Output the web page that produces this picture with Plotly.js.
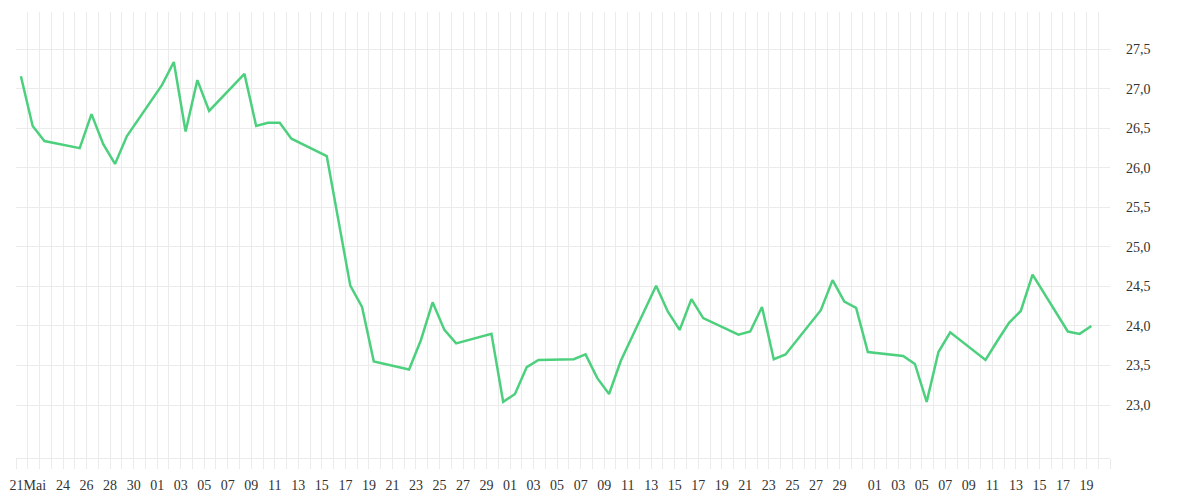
<!DOCTYPE html>
<html>
<head>
<meta charset="utf-8">
<script src="https://cdn.plot.ly/plotly-3.0.1.min.js"></script>
<style>
  html, body { margin: 0; padding: 0; background: #ffffff; }
  #chart { width: 1200px; height: 500px; }
</style>
</head>
<body>
<div id="chart"></div>
<script>
// Trading days (2020) and closing values
const dates = [
  '2020-05-20','2020-05-21','2020-05-22','2020-05-25','2020-05-26','2020-05-27','2020-05-28','2020-05-29',
  '2020-06-01','2020-06-02','2020-06-03','2020-06-04','2020-06-05',
  '2020-06-08','2020-06-09','2020-06-10','2020-06-11','2020-06-12',
  '2020-06-15','2020-06-16','2020-06-17','2020-06-18','2020-06-19',
  '2020-06-22','2020-06-23','2020-06-24','2020-06-25','2020-06-26',
  '2020-06-29','2020-06-30','2020-07-01','2020-07-02','2020-07-03',
  '2020-07-06','2020-07-07','2020-07-08','2020-07-09','2020-07-10',
  '2020-07-13','2020-07-14','2020-07-15','2020-07-16','2020-07-17',
  '2020-07-20','2020-07-21','2020-07-22','2020-07-23','2020-07-24',
  '2020-07-27','2020-07-28','2020-07-29','2020-07-30','2020-07-31',
  '2020-08-03','2020-08-04','2020-08-05','2020-08-06','2020-08-07',
  '2020-08-10','2020-08-11','2020-08-12','2020-08-13','2020-08-14',
  '2020-08-17','2020-08-18','2020-08-19'
];
const values = [
  27.16, 26.53, 26.34, 26.25, 26.68, 26.30, 26.05, 26.40,
  27.05, 27.34, 26.46, 27.11, 26.72,
  27.19, 26.53, 26.57, 26.57, 26.37,
  26.15, 25.35, 24.51, 24.24, 23.55,
  23.45, 23.82, 24.30, 23.95, 23.78,
  23.90, 23.04, 23.14, 23.48, 23.57,
  23.58, 23.64, 23.34, 23.14, 23.56,
  24.51, 24.18, 23.95, 24.34, 24.10,
  23.89, 23.93, 24.24, 23.58, 23.64,
  24.20, 24.58, 24.31, 24.23, 23.67,
  23.62, 23.52, 23.04, 23.67, 23.92,
  23.57, 23.81, 24.04, 24.19, 24.65,
  23.93, 23.90, 24.00
];

// X tick labels
const tickDates = [
  '2020-05-21','2020-05-24','2020-05-26','2020-05-28','2020-05-30',
  '2020-06-01','2020-06-03','2020-06-05','2020-06-07','2020-06-09','2020-06-11','2020-06-13','2020-06-15',
  '2020-06-17','2020-06-19','2020-06-21','2020-06-23','2020-06-25','2020-06-27','2020-06-29',
  '2020-07-01','2020-07-03','2020-07-05','2020-07-07','2020-07-09','2020-07-11','2020-07-13','2020-07-15',
  '2020-07-17','2020-07-19','2020-07-21','2020-07-23','2020-07-25','2020-07-27','2020-07-29',
  '2020-08-01','2020-08-03','2020-08-05','2020-08-07','2020-08-09','2020-08-11','2020-08-13','2020-08-15',
  '2020-08-17','2020-08-19'
];
const tickLabels = [
  '21Mai','24','26','28','30',
  '01','03','05','07','09','11','13','15',
  '17','19','21','23','25','27','29',
  '01','03','05','07','09','11','13','15',
  '17','19','21','23','25','27','29',
  '01','03','05','07','09','11','13','15',
  '17','19'
];

// Y tick labels
const yTickVals = [23.0, 23.5, 24.0, 24.5, 25.0, 25.5, 26.0, 26.5, 27.0, 27.5];
const yTickText = ['23,0','23,5','24,0','24,5','25,0','25,5','26,0','26,5','27,0','27,5'];

const GRID = '#ebebeb';
const FONT = { family: 'Liberation Serif, Times New Roman, serif', size: 14, color: '#333333' };

const trace = {
  type: 'scatter',
  mode: 'lines',
  x: dates.map(d => d + ' 10:00'),
  y: values,
  line: { color: '#4dd07e', width: 2.5 },
  hoverinfo: 'skip'
};

const layout = {
  width: 1200,
  height: 500,
  margin: { l: 16, r: 90, t: 12, b: 42 },
  paper_bgcolor: '#ffffff',
  plot_bgcolor: '#ffffff',
  showlegend: false,
  font: FONT,
  xaxis: {
    type: 'date',
    range: ['2020-05-20', '2020-08-21'],
    tickmode: 'array',
    tickvals: tickDates,
    ticktext: tickLabels,
    showgrid: true,
    gridcolor: GRID,
    gridwidth: 1,
    ticks: 'outside',
    ticklen: 10,
    tickcolor: GRID,
    tickwidth: 1,
    showline: true,
    linecolor: GRID,
    linewidth: 1,
    zeroline: false,
    tickfont: FONT,
    ticklabelstandoff: 4,
    minor: {
      dtick: 86400000,
      tick0: '2020-05-20',
      showgrid: true,
      gridcolor: GRID,
      gridwidth: 1,
      ticks: 'outside',
      ticklen: 10,
      tickcolor: GRID,
      tickwidth: 1
    }
  },
  yaxis: {
    side: 'right',
    range: [22.33, 27.972],
    tickmode: 'array',
    tickvals: yTickVals,
    ticktext: yTickText,
    showgrid: true,
    gridcolor: GRID,
    gridwidth: 1,
    zeroline: false,
    showline: false,
    ticks: '',
    tickfont: FONT,
    ticklabelstandoff: 15
  }
};

Plotly.newPlot('chart', [trace], layout, { staticPlot: true, displayModeBar: false });
</script>
</body>
</html>
